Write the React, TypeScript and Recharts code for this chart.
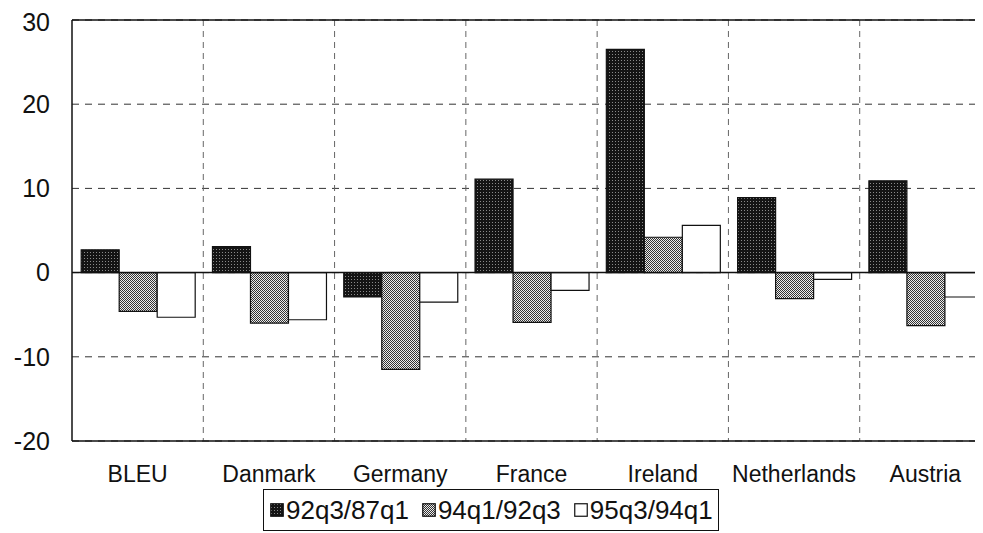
import React from 'react';
import { BarChart, Bar, XAxis, YAxis, CartesianGrid, ReferenceLine, Legend } from 'recharts';

const categories = ['BLEU', 'Danmark', 'Germany', 'France', 'Ireland', 'Netherlands', 'Austria'];
const seriesNames = ['92q3/87q1', '94q1/92q3', '95q3/94q1'];
const s1 = [2.7, 3.1, -2.9, 11.1, 26.5, 8.9, 10.9];
const s2 = [-4.6, -6.0, -11.5, -5.9, 4.2, -3.1, -6.3];
const s3 = [-5.3, -5.6, -3.5, -2.1, 5.6, -0.8, -2.9];
const yTicks = [-20, -10, 0, 10, 20, 30];

const data = categories.map((c, i) => ({ name: c, a: s1[i], b: s2[i], c: s3[i] }));

const FONT = '"Liberation Sans", Arial, sans-serif';
const fills = ['url(#patDark)', 'url(#patGray)', '#ffffff'];

const Patterns = () => (
  <svg width={0} height={0} style={{ position: 'absolute' }}>
    <defs>
      <pattern id="patDark" width={3} height={3} patternUnits="userSpaceOnUse">
        <rect width={3} height={3} fill="#141414" />
        <rect x={1} y={1} width={1} height={1} fill="#8a8a8a" />
      </pattern>
      <pattern id="patGray" width={2} height={2} patternUnits="userSpaceOnUse">
        <rect width={2} height={2} fill="#ececec" />
        <rect x={0} y={0} width={1} height={1} fill="#333" />
        <rect x={1} y={1} width={1} height={1} fill="#333" />
      </pattern>
    </defs>
  </svg>
);

const LegendBox = () => (
  <div
    style={{
      border: '1.5px solid #111',
      display: 'inline-flex',
      alignItems: 'center',
      height: 42,
      padding: '0 5px 0 6px',
      boxSizing: 'border-box',
      fontFamily: FONT,
      fontSize: 26,
      color: '#111',
      whiteSpace: 'nowrap',
    }}
  >
    {seriesNames.map((n, i) => (
      <span key={n} style={{ display: 'inline-flex', alignItems: 'center', marginRight: i < 2 ? 13 : 0 }}>
        <svg width={14} height={14} style={{ marginRight: 2 }}>
          <rect x={0.75} y={0.75} width={12.5} height={12.5} fill={fills[i]} stroke="#111" strokeWidth={1.2} />
        </svg>
        {n}
      </span>
    ))}
  </div>
);

export default function App() {
  return (
    <div style={{ width: 975, height: 525, overflow: 'hidden', position: 'relative', background: '#fff' }}>
      <Patterns />
      <BarChart
        width={983}
        height={525}
        data={data}
        margin={{ top: 12, right: 0, bottom: 0, left: 0 }}
        barCategoryGap="7%"
        barGap={0}
      >
        <CartesianGrid horizontal={true} vertical={false} stroke="#333" strokeDasharray="7 6" />
        <CartesianGrid
          horizontal={false}
          vertical={true}
          stroke="#666"
          strokeDasharray="6 5"
          verticalCoordinatesGenerator={({ offset }: any) =>
            [1, 2, 3, 4, 5, 6].map((i) => offset.left + (i * offset.width) / categories.length)
          }
        />
        <XAxis
          dataKey="name"
          height={50}
          tickLine={false}
          tickSize={0}
          tickMargin={25}
          axisLine={{ stroke: '#111', strokeWidth: 1.5 }}
          tick={{ fill: '#111', fontSize: 23, fontFamily: FONT }}
          interval={0}
        />
        <YAxis
          domain={[-20, 30]}
          ticks={yTicks}
          width={64}
          tickLine={false}
          tickSize={0}
          tickMargin={22}
          axisLine={{ stroke: '#111', strokeWidth: 1.5 }}
          tick={{ fill: '#111', fontSize: 25, fontFamily: FONT }}
          allowDataOverflow
        />
        <ReferenceLine y={30} stroke="#111" strokeWidth={1.5} />
        <Bar dataKey="a" name={seriesNames[0]} fill={fills[0]} stroke="#111" strokeWidth={1.2} isAnimationActive={false} />
        <Bar dataKey="b" name={seriesNames[1]} fill={fills[1]} stroke="#111" strokeWidth={1.2} isAnimationActive={false} />
        <Bar dataKey="c" name={seriesNames[2]} fill={fills[2]} stroke="#111" strokeWidth={1.2} isAnimationActive={false} />
        <ReferenceLine y={0} stroke="#111" strokeWidth={1.5} />
        <Legend
          verticalAlign="bottom"
          content={() => <LegendBox />}
          wrapperStyle={{ position: 'absolute', left: 255, top: 481, width: 'auto', height: 42 }}
        />
      </BarChart>
    </div>
  );
}
